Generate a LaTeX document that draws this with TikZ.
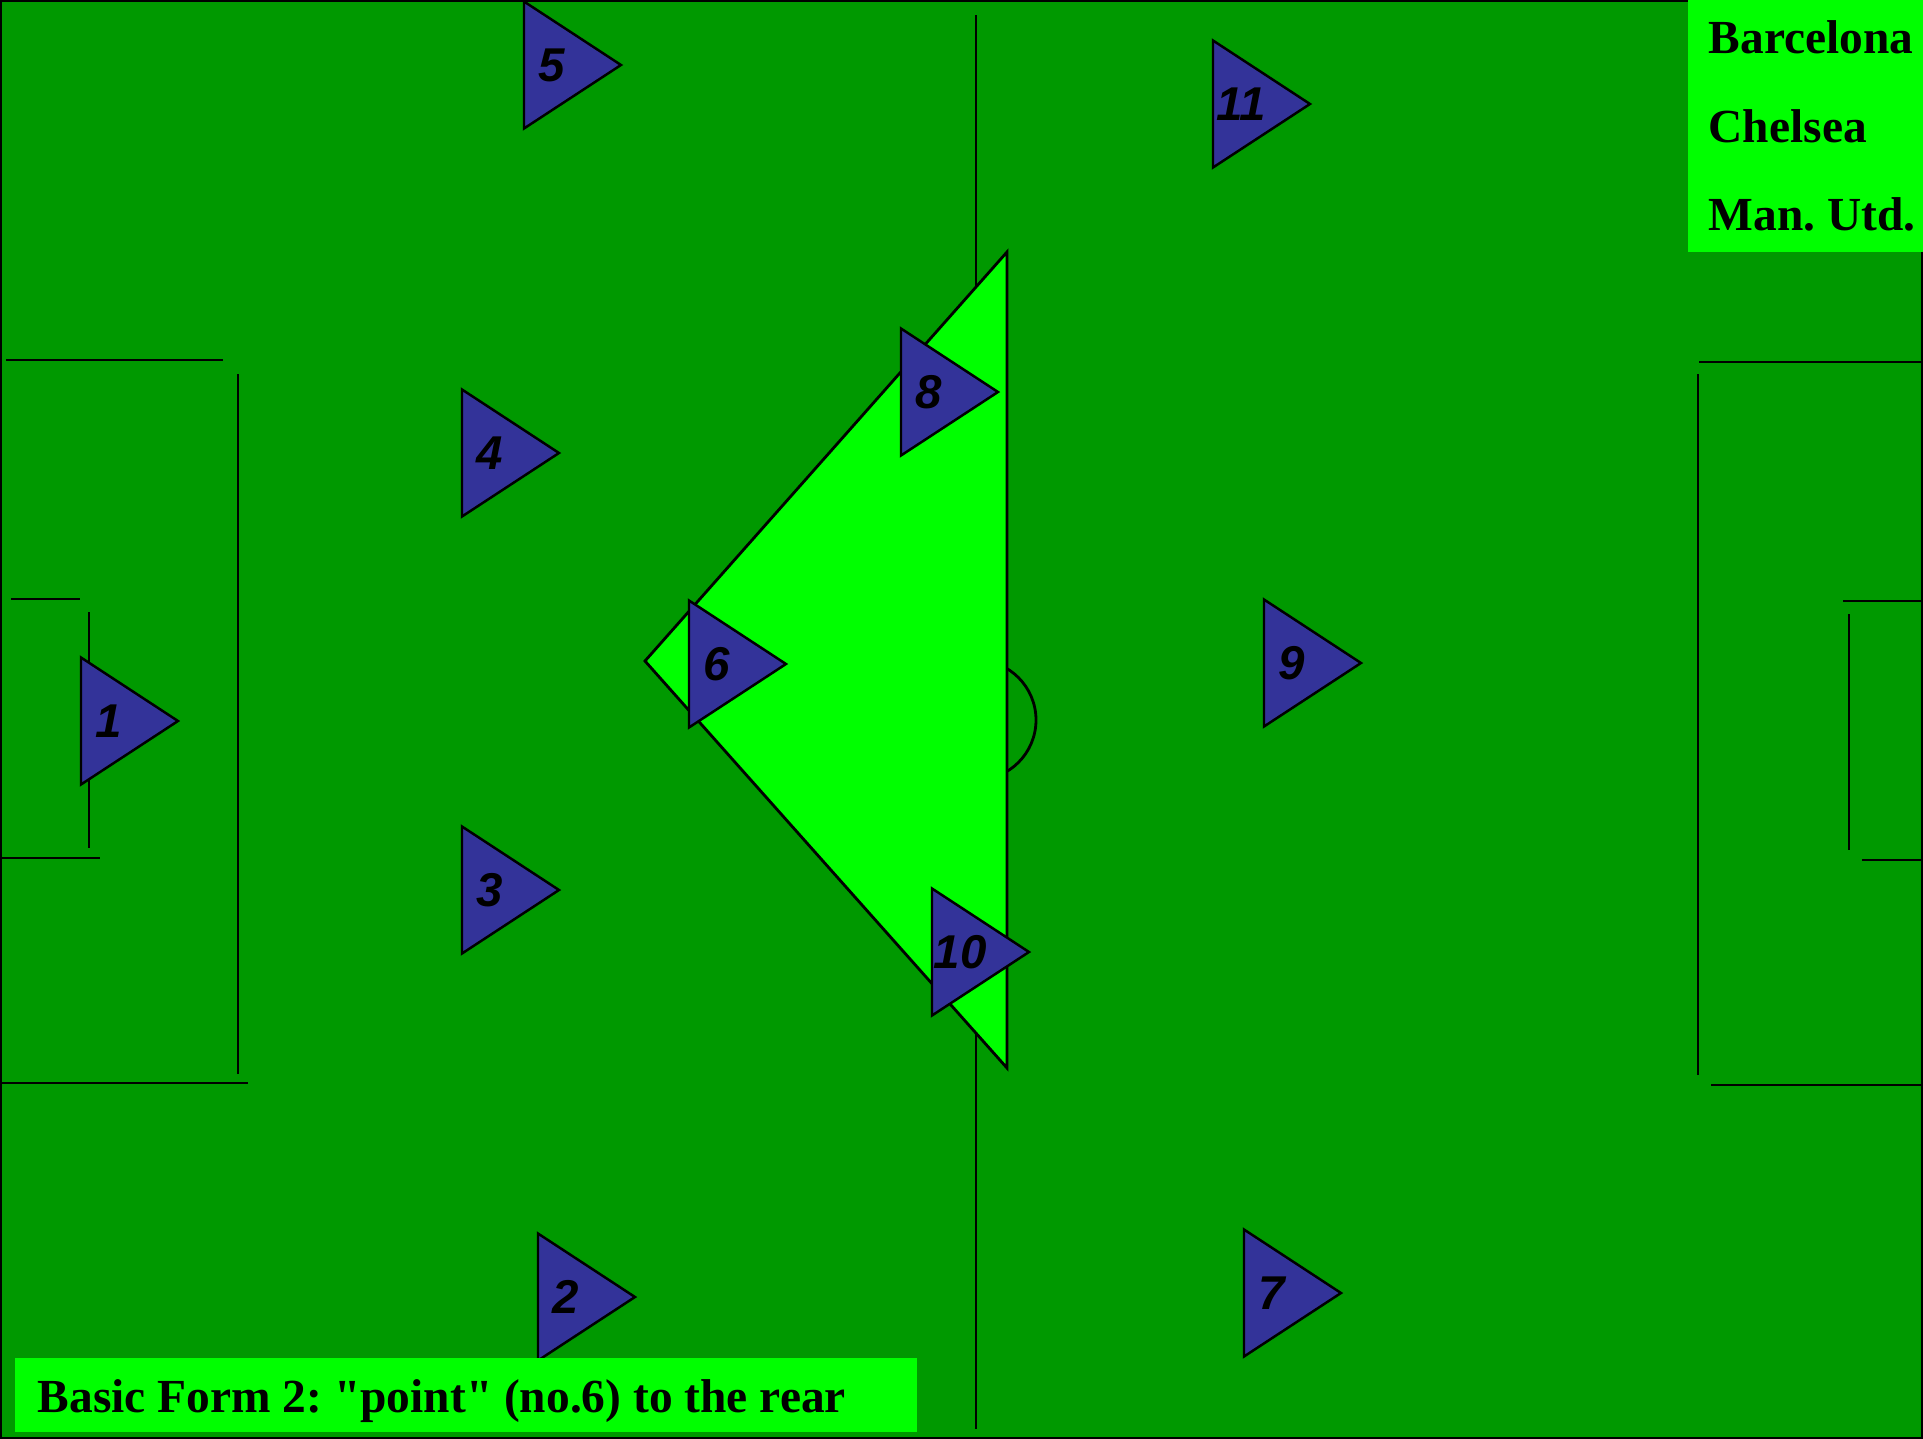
\documentclass[tikz,border=0pt]{standalone}
\usepackage{fontspec}
\setmainfont{Liberation Serif}
\setsansfont{Liberation Sans}
\newfontfamily\legendfont{Liberation Serif}
\usepackage{tikz}
\definecolor{pitch-green}{RGB}{0,153,0}
\definecolor{light-green}{RGB}{0,255,0}
\definecolor{shirt-blue}{RGB}{51,51,153}
\frenchspacing

% one player: name, left edge x, middle y, shirt number
\newcommand{\player}[4]{%
  \draw[player] (#2,#3-63.5) -- (#2+97,#3) -- (#2,#3+63.5) -- cycle;
  \node[num] (#1) at (#2+28,#3) {#4};
}

\begin{document}
\begin{tikzpicture}
[
  x=0.1mm, y=-0.1mm,
  line/.style={draw=black, line width=0.8pt},
  player/.style={draw=black, line width=0.7pt, fill=shirt-blue},
  num/.style={font=\fontsize{13.5}{16}\selectfont\sffamily\bfseries\itshape, inner sep=0pt},
  team/.style={font=\fontsize{13.5}{16}\selectfont\legendfont\bfseries, inner sep=0pt, anchor=base west},
]
\useasboundingbox (0,0) rectangle (1923,1439);
\fill[pitch-green] (0,0) rectangle (1923,1439);
\draw[line] (1,1) rectangle (1922,1438);

% left half
\draw[line] (6,360) -- (223,360);
\draw[line] (238,374) -- (238,1074);
\draw[line] (2,1083) -- (248,1083);
\draw[line] (11,599) -- (80,599);
\draw[line] (89,612) -- (89,848);
\draw[line] (2,858) -- (100,858);

% right half
\draw[line] (1699,362) -- (1923,362);
\draw[line] (1698,374) -- (1698,1075);
\draw[line] (1711,1085) -- (1923,1085);
\draw[line] (1843,601) -- (1923,601);
\draw[line] (1849,614) -- (1849,850);
\draw[line] (1862,860) -- (1923,860);

% halfway line and circle
\draw[line] (976,15) -- (976,1429);
\draw[line] (976,720) circle (60);

% the "point"
\draw[line, fill=light-green] (1007,252) -- (645,661) -- (1007,1068) -- cycle;

\player{p1}{81}{721}{1}
\player{p2}{538}{1297}{2}
\player{p3}{462}{890}{3}
\player{p4}{462}{453}{4}
\player{p5}{524}{65}{5}
\player{p6}{689}{664}{6}
\player{p7}{1244}{1293}{7}
\player{p8}{901}{392}{8}
\player{p9}{1264}{663}{9}
\player{p10}{932}{952}{10}
\player{p11}{1213}{104}{11}

% legend
\fill[light-green] (1688,0) rectangle (1923,252);
\node[team] (barca) at (1708,53) {Barcelona};
\node[team] (chelsea) at (1708,143) {Chelsea};
\node[team] (manutd) at (1708,230) {Man. Utd.};

% caption
\fill[light-green] (15,1358) rectangle (917,1432);
\node[team] (caption) at (37,1412) {Basic Form 2: "point" (no.6) to the rear};
\end{tikzpicture}
\end{document}
